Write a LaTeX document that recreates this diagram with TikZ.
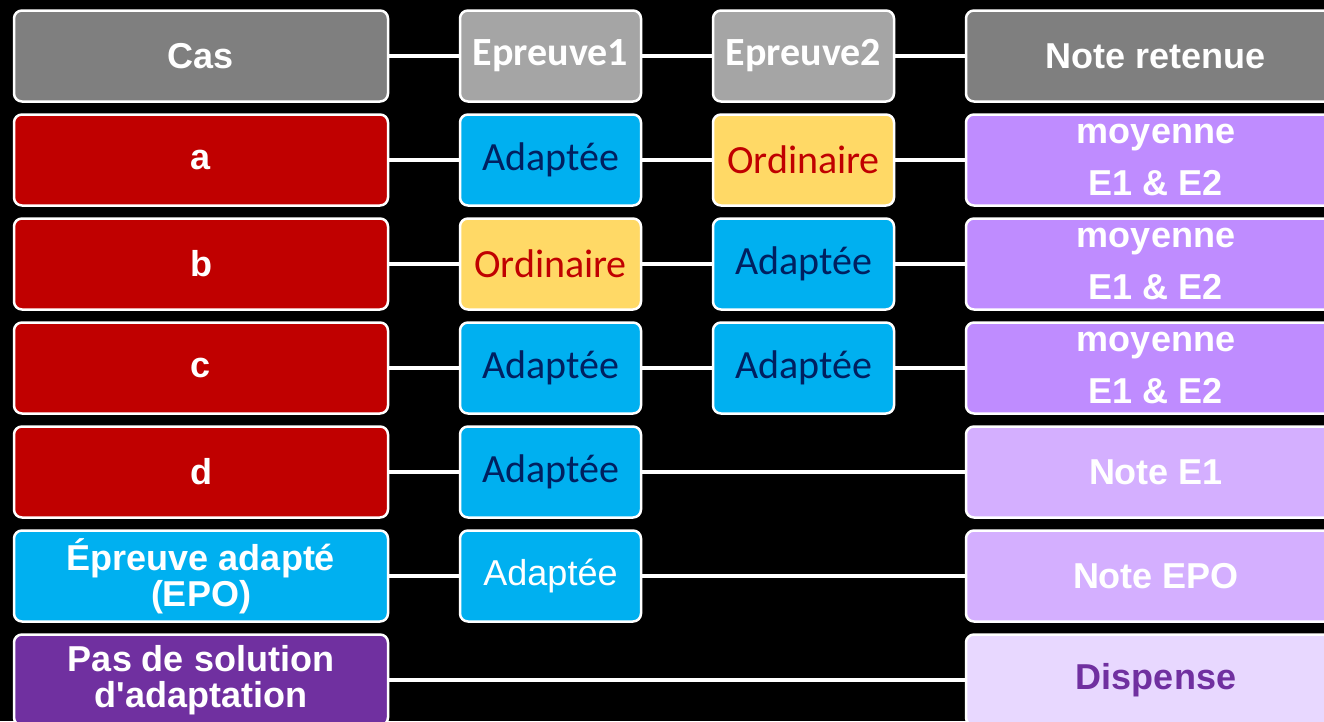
\documentclass[tikz,border=0pt]{standalone}
\usepackage{fontspec}
\setmainfont{Liberation Sans}
\newfontfamily\calfont{Carlito}
\definecolor{headgray}{HTML}{7F7F7F}
\definecolor{epgray}{HTML}{A5A5A5}
\definecolor{casred}{HTML}{C00000}
\definecolor{adblue}{HTML}{00B0F0}
\definecolor{adtext}{HTML}{002060}
\definecolor{ordyellow}{HTML}{FFD966}
\definecolor{moypurple}{HTML}{BF8CFF}
\definecolor{notepurple}{HTML}{D4AFFF}
\definecolor{dispfill}{HTML}{E8D8FF}
\definecolor{darkpurple}{HTML}{7030A0}
\begin{document}
\begin{tikzpicture}[x=1pt,y=-1pt]

% size of each box
\def\bh{91pt}
\def\wcas{374pt}
\def\wep{181pt}
\def\wnote{380pt}
% box style definition
\tikzstyle{block} = [
	draw=white, line width=2.5pt, rounded corners=8pt,
	minimum height=\bh, inner sep=0pt, align=center, text=white,
	font=\fontsize{36}{36}\selectfont\bfseries ];
\tikzstyle{cas} = [block, minimum width=\wcas];
\tikzstyle{epr} = [block, minimum width=\wep];
\tikzstyle{note} = [block, minimum width=\wnote];
\tikzstyle{adap} = [epr, fill=adblue, text=adtext, font=\calfont\fontsize{40}{40}\selectfont];
\tikzstyle{ordi} = [epr, fill=ordyellow, text=casred, font=\calfont\fontsize{40}{40}\selectfont];
\tikzstyle{moy} = [note, fill=moypurple, font=\fontsize{36}{52}\selectfont\bfseries];
\tikzstyle{link} = [draw=white, line width=4pt];

\clip (0,0) rectangle (1324,721);
\fill[black] (0,0) rectangle (1324,721);

% header row
\node[cas,fill=headgray] (c0) at (201,56) {Cas};
\node[epr,fill=epgray,font=\calfont\fontsize{40}{40}\selectfont\bfseries] (p0) at (550.5,56) {Epreuve1};
\node[epr,fill=epgray,font=\calfont\fontsize{40}{40}\selectfont\bfseries] (q0) at (803.5,56) {Epreuve2};
\node[note,fill=headgray] (n0) at (1156,56) {Note retenue};

% cases a, b, c
\node[cas,fill=casred] (c1) at (201,160) {a};
\node[adap] (p1) at (550.5,160) {Adaptée};
\node[ordi] (q1) at (803.5,160) {Ordinaire};
\node[moy] (n1) at (1156,160) {moyenne\\E1 \& E2};

\node[cas,fill=casred] (c2) at (201,264) {b};
\node[ordi] (p2) at (550.5,264) {Ordinaire};
\node[adap] (q2) at (803.5,264) {Adaptée};
\node[moy] (n2) at (1156,264) {moyenne\\E1 \& E2};

\node[cas,fill=casred] (c3) at (201,368) {c};
\node[adap] (p3) at (550.5,368) {Adaptée};
\node[adap] (q3) at (803.5,368) {Adaptée};
\node[moy] (n3) at (1156,368) {moyenne\\E1 \& E2};

% case d, EPO, no solution
\node[cas,fill=casred] (c4) at (201,472) {d};
\node[adap] (p4) at (550.5,472) {Adaptée};
\node[note,fill=notepurple] (n4) at (1156,472) {Note E1};

\node[cas,fill=adblue] (c5) at (201,576) {Épreuve adapté\\(EPO)};
\node[epr,fill=adblue,font=\fontsize{36}{36}\selectfont] (p5) at (550.5,576) {Adaptée};
\node[note,fill=notepurple] (n5) at (1156,576) {Note EPO};

\node[cas,fill=darkpurple] (c6) at (201,680) {Pas de solution\\d\textquotesingle adaptation};
\node[note,fill=dispfill,text=darkpurple] (n6) at (1156,680) {Dispense};

\draw[link] (c0) -- (p0);
\draw[link] (p0) -- (q0);
\draw[link] (q0) -- (n0);
\draw[link] (c1) -- (p1);
\draw[link] (p1) -- (q1);
\draw[link] (q1) -- (n1);
\draw[link] (c2) -- (p2);
\draw[link] (p2) -- (q2);
\draw[link] (q2) -- (n2);
\draw[link] (c3) -- (p3);
\draw[link] (p3) -- (q3);
\draw[link] (q3) -- (n3);
\draw[link] (c4) -- (p4);
\draw[link] (p4) -- (n4);
\draw[link] (c5) -- (p5);
\draw[link] (p5) -- (n5);
\draw[link] (c6) -- (n6);

\end{tikzpicture}
\end{document}
